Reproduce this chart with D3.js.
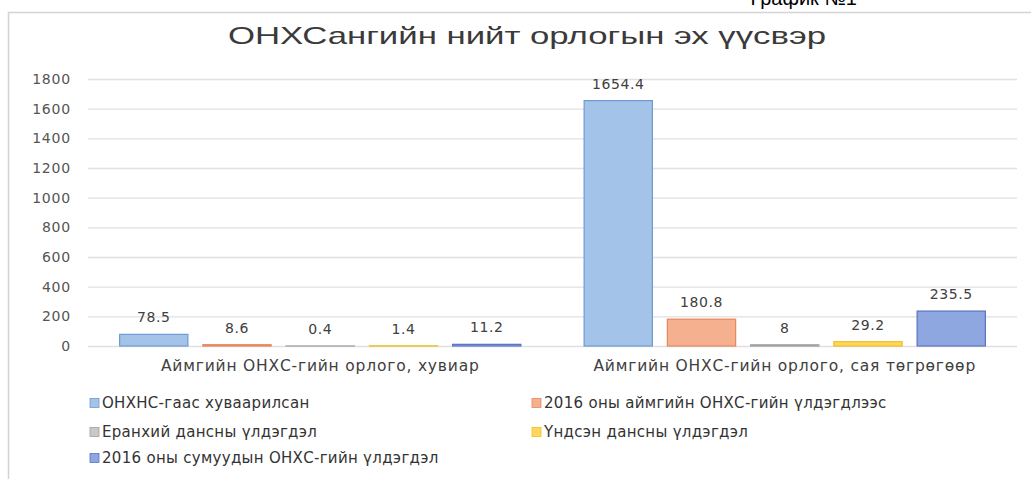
<!DOCTYPE html>
<html>
<head>
<meta charset="utf-8">
<script src="https://cdn.jsdelivr.net/npm/d3@7"></script>
<style>
  body { margin: 0; background: #fff; }
  svg { display: block; }
  .tick text { font-family: "DejaVu Sans", sans-serif; }
</style>
</head>
<body>
<svg id="chart"></svg>
<script>
const categories = ["Аймгийн ОНХС-гийн орлого, хувиар", "Аймгийн ОНХС-гийн орлого, сая төгрөгөөр"];
const seriesNames = [
  "ОНХНС-гаас хуваарилсан",
  "2016 оны аймгийн  ОНХС-гийн үлдэгдлээс",
  "Еранхий дансны үлдэгдэл",
  "Үндсэн дансны үлдэгдэл",
  "2016 оны сумуудын ОНХС-гийн үлдэгдэл"
];
// values per series, one per category
const seriesValues = [
  [78.5, 1654.4],
  [8.6, 180.8],
  [0.4, 8],
  [1.4, 29.2],
  [11.2, 235.5]
];
const yTicks = [0, 200, 400, 600, 800, 1000, 1200, 1400, 1600, 1800];

const fills = ["#a3c3e9", "#f5b18f", "#c8c8c8", "#ffd75e", "#8fa7e0"];
const strokes = ["#6d9ad3", "#e8855a", "#a0a0a0", "#f0c020", "#5a73c4"];

const W = 1031, H = 479;
const svg = d3.select("#chart").attr("width", W).attr("height", H);

// frame (right and bottom edges fall outside the picture)
svg.append("rect")
  .attr("x", 8.5).attr("y", 12.5)
  .attr("width", W + 10).attr("height", H)
  .attr("fill", "#fff")
  .attr("stroke", "#d4d4d4")
  .attr("stroke-width", 1.5);

// caption top-right, mostly cut off as in the scan
svg.append("text")
  .attr("x", 857).attr("y", 5)
  .attr("text-anchor", "end")
  .style("font-family", "Liberation Sans, Arial, sans-serif")
  .style("font-size", "20px")
  .attr("fill", "#000")
  .text("График №1");

svg.append("text")
  .attr("x", 228).attr("y", 44)
  .attr("textLength", 598)
  .attr("lengthAdjust", "spacingAndGlyphs")
  .style("font-family", "Liberation Sans Narrow, Liberation Sans, sans-serif")
  .style("font-size", "24px")
  .attr("fill", "#3a3a3a")
  .text("ОНХСангийн  нийт орлогын эх үүсвэр");

const plotLeft = 88, plotRight = 1017;

const y = d3.scaleLinear().domain([0, 1800]).range([346, 79]);

const x0 = d3.scaleBand()
  .domain(categories)
  .range([plotLeft, plotRight]);

const x1 = d3.scaleBand()
  .domain(d3.range(seriesNames.length))
  .range([0, x0.bandwidth()])
  .paddingInner(0.18)
  .paddingOuter(0.38);

// gridlines
svg.append("g")
  .selectAll("line")
  .data(yTicks)
  .join("line")
  .attr("x1", plotLeft).attr("x2", plotRight)
  .attr("y1", d => y(d) + 0.5).attr("y2", d => y(d) + 0.5)
  .attr("stroke", "#e0e0e0")
  .attr("stroke-width", 1.3);

// y axis labels
const yAxis = svg.append("g")
  .attr("transform", "translate(71,0)")
  .call(d3.axisLeft(y).tickValues(yTicks).tickFormat(d3.format("d")).tickSize(0).tickPadding(0));
yAxis.select(".domain").remove();
yAxis.selectAll("text")
  .attr("fill", "#555")
  .style("font-size", "14px")
  .style("letter-spacing", "0.8px");

// bars
const flat = [];
seriesValues.forEach((vals, s) => {
  vals.forEach((v, c) => flat.push({ s, c: categories[c], v }));
});

svg.append("g")
  .selectAll("rect")
  .data(flat)
  .join("rect")
  .attr("x", d => x0(d.c) + x1(d.s))
  .attr("y", d => y(d.v))
  .attr("width", x1.bandwidth())
  .attr("height", d => y(0) - y(d.v))
  .attr("fill", d => fills[d.s])
  .attr("stroke", d => strokes[d.s])
  .attr("stroke-width", 1.2);

// value labels
svg.append("g")
  .selectAll("text")
  .data(flat)
  .join("text")
  .attr("x", d => x0(d.c) + x1(d.s) + x1.bandwidth() / 2)
  .attr("y", d => y(d.v) - 12)
  .attr("text-anchor", "middle")
  .style("font-family", "DejaVu Sans, sans-serif")
  .style("font-size", "14px")
  .style("letter-spacing", "0.6px")
  .attr("fill", "#404040")
  .text(d => d.v);

// category axis
const xAxis = svg.append("g")
  .attr("transform", `translate(0,${y(0)})`)
  .call(d3.axisBottom(x0).tickSize(0).tickPadding(14));
xAxis.select(".domain").remove();
xAxis.selectAll("text")
  .attr("fill", "#404040")
  .style("font-size", "15.5px")
  .style("letter-spacing", "0.8px");

// legend
const legend = svg.append("g")
  .selectAll("g")
  .data(seriesNames)
  .join("g")
  .attr("transform", (d, i) => `translate(${i % 2 === 0 ? 90 : 532},${[403, 432, 458][Math.floor(i / 2)]})`);

legend.append("rect")
  .attr("x", 0).attr("y", -4.5)
  .attr("width", 9).attr("height", 9)
  .attr("fill", (d, i) => fills[i])
  .attr("stroke", (d, i) => strokes[i])
  .attr("stroke-width", 0.8);

legend.append("text")
  .attr("x", 12).attr("y", 5)
  .style("font-family", "DejaVu Sans, sans-serif")
  .style("font-size", "15px")
  .style("letter-spacing", "0.3px")
  .attr("fill", "#333")
  .text(d => d);
</script>
</body>
</html>
